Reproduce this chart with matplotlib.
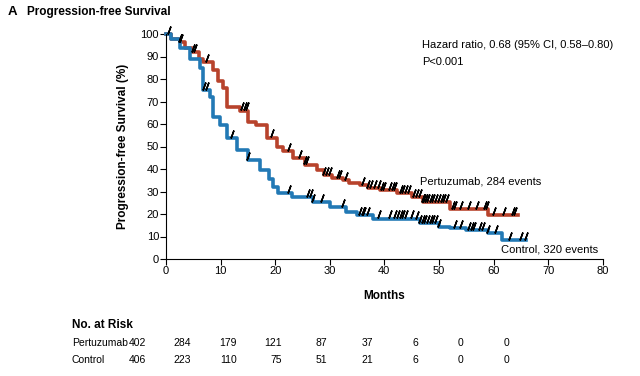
import matplotlib
matplotlib.use('Agg')
import matplotlib.pyplot as plt
import numpy as np

plt.rcParams['font.family'] = ['Liberation Sans', 'DejaVu Sans']

############# data ##################################
# step curves: (months, percent) at each change
pert_t = [0, 1.0, 2.5, 3.5, 4.8, 6.0, 6.8, 8.6, 9.5, 10.5, 11.1, 13.5, 15, 16.5, 18.5, 20.3, 21.5, 23.3, 25.5, 27.6, 29, 30.5, 32.5, 33.5, 35.5, 37, 39.2, 42.3, 45, 47, 52, 59, 64.5]
pert_s = [100, 98, 96.5, 94, 92, 89, 87.5, 84, 79, 76, 67.5, 66, 61, 59.5, 54, 50, 48, 45, 42, 39.5, 37.5, 36, 35, 34, 33, 31.5, 30.5, 29.3, 27.5, 25.5, 22.2, 19.5, 19.5]
ctrl_t = [0, 1.0, 2.6, 4.4, 6.2, 6.8, 8.0, 8.6, 9.9, 11.1, 13, 15, 17.2, 18.8, 19.6, 20.5, 23, 27, 30, 33, 35, 38, 45.5, 46.5, 50, 52, 55, 59, 61.5, 66]
ctrl_s = [100, 98, 94, 89, 85, 75, 72, 63, 59.5, 53.6, 48.4, 44, 39.5, 35.5, 32, 29.3, 27.7, 25.5, 23.3, 21, 19.5, 18, 17.7, 15.8, 14.4, 13.8, 13, 11.5, 8.5, 8.5]
# censoring times (months)
pert_cens = [0.5, 2.5, 2.8, 5.0, 5.3, 7.5, 14.0, 14.5, 14.8, 19.4, 22.5, 24.5, 25.5, 25.8, 29, 29.5, 30, 31.5, 31.8, 33, 36, 37, 37.5, 38.2, 39, 39.5, 40, 41, 41.5, 42, 43, 43.5, 44, 44.5, 45.5, 46, 46.5, 47, 47.3, 47.6, 48, 48.5, 49, 49.5, 50, 50.5, 51, 51.5, 52.5, 53, 54, 55.5, 57, 58.5, 58.8, 60, 62, 63.5, 64]
ctrl_cens = [7.0, 7.5, 12, 15, 22.5, 26, 26.5, 27, 28.5, 32.5, 35.5, 36, 36.3, 37, 39, 41, 42, 42.5, 43, 43.5, 44, 45, 46, 46.5, 47, 47.5, 48, 48.5, 49, 49.5, 50, 53, 54, 55.5, 56, 56.5, 57.5, 58, 59, 60.5, 63, 65, 66]
risk_months = [0, 10, 20, 30, 40, 50, 60, 70, 80]
risk_pert = [402, 284, 179, 121, 87, 37, 6, 0, 0]
risk_ctrl = [406, 223, 110, 75, 51, 21, 6, 0, 0]
#####################################################

red = '#b8432c'
blue = '#2279b5'

fig = plt.figure(figsize=(6.4, 3.76), dpi=100)
ax = fig.add_axes([166/640, 1-259/376, (602.7-166)/640, (259-34)/376])

def stepval(t, s, x):
    i = np.searchsorted(t, x, side='right') - 1
    return np.array(s)[i]

for t, s, c, cens in [(pert_t, pert_s, red, pert_cens), (ctrl_t, ctrl_s, blue, ctrl_cens)]:
    ax.step(t, s, where='post', color=c, lw=2.6, clip_on=False, zorder=2)
    ax.plot(cens, stepval(t, s, cens) + 1.8, ls='none', marker=(2, 2, -20),
            ms=6, mew=1.1, color='black', clip_on=False, zorder=3)

ax.set_xlim(0, 80)
ax.set_ylim(0, 100)
ax.set_xticks(range(0, 81, 10))
ax.set_yticks(range(0, 101, 10))
ax.spines['top'].set_visible(False)
ax.spines['right'].set_visible(False)
ax.tick_params(direction='out', length=4, width=0.8, labelsize=8, pad=1)
ax.set_xlabel('Months', fontsize=8.5, fontweight='bold', labelpad=10)
ax.set_ylabel('Progression-free Survival (%)', fontsize=8.5, fontweight='bold', labelpad=8)

fig.text(8/640, 1-12/376, 'A', fontsize=9.5, fontweight='bold', va='center')
fig.text(27/640, 1-12/376, 'Progression-free Survival', fontsize=8.5, fontweight='bold', va='center')
fig.text(422/640, 1-45/376, 'Hazard ratio, 0.68 (95% CI, 0.58\u20130.80)', fontsize=8, va='center')
fig.text(422/640, 1-62/376, 'P<0.001', fontsize=8, va='center')
fig.text(420/640, 1-181/376, 'Pertuzumab, 284 events', fontsize=8, va='center')
fig.text(501/640, 1-250/376, 'Control, 320 events', fontsize=8, va='center')

fig.text(72/640, 1-325/376, 'No. at Risk', fontsize=8.5, fontweight='bold', va='center')
fig.text(72/640, 1-343/376, 'Pertuzumab', fontsize=7.5, va='center')
fig.text(72/640, 1-360/376, 'Control', fontsize=7.5, va='center')
for i, m in enumerate(risk_months):
    xr = (146 + 45.4 * i) / 640
    fig.text(xr, 1-343/376, str(risk_pert[i]), fontsize=7.5, va='center', ha='right')
    fig.text(xr, 1-360/376, str(risk_ctrl[i]), fontsize=7.5, va='center', ha='right')

fig.savefig('out.png', dpi=100)
